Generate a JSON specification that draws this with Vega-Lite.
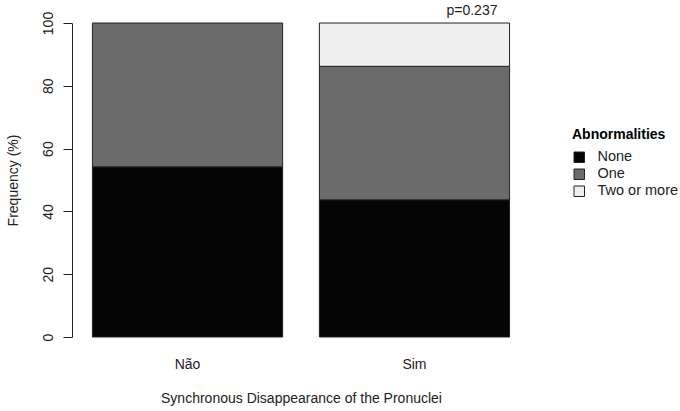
{
  "$schema": "https://vega.github.io/schema/vega-lite/v6.json",
  "width": 458,
  "height": 314,
  "autosize": "none",
  "padding": {"left": 72, "top": 23, "right": 150, "bottom": 74},
  "background": "white",
  "config": {
    "view": {"stroke": null},
    "font": "Liberation Sans",
    "axis": {"labelFont": "Liberation Sans", "titleFont": "Liberation Sans", "labelColor": "#222", "titleColor": "#222", "grid": false},
    "legend": {"labelFont": "Liberation Sans", "titleFont": "Liberation Sans"}
  },
  "layer": [
    {
      "data": {
        "values": [
          {"group": "Não", "Abnormalities": "None", "pct": 54.2},
          {"group": "Não", "Abnormalities": "One", "pct": 45.8},
          {"group": "Sim", "Abnormalities": "None", "pct": 43.7},
          {"group": "Sim", "Abnormalities": "One", "pct": 42.5},
          {"group": "Sim", "Abnormalities": "Two or more", "pct": 13.8}
        ]
      },
      "mark": {"type": "bar", "stroke": "#222", "strokeWidth": 1},
      "encoding": {
        "x": {
          "field": "group",
          "type": "nominal",
          "scale": {"paddingInner": 0.162, "paddingOuter": 0.09},
          "axis": {
            "title": "Synchronous Disappearance of the Pronuclei",
            "labelAngle": 0,
            "domain": false,
            "ticks": false,
            "labelPadding": 20,
            "labelFontSize": 14,
            "titleFontSize": 14,
            "titleFontWeight": "normal",
            "titlePadding": 20
          }
        },
        "y": {
          "field": "pct",
          "type": "quantitative",
          "stack": "zero",
          "scale": {"domain": [0, 100], "nice": false},
          "axis": {
            "title": "Frequency (%)",
            "values": [0, 20, 40, 60, 80, 100],
            "labelAngle": -90,
            "labelAlign": "center",
            "labelBaseline": "bottom",
            "labelPadding": 8,
            "labelFontSize": 14,
            "tickSize": 9,
            "tickColor": "#222",
            "domainColor": "#222",
            "titleFontSize": 14,
            "titleFontWeight": "normal",
            "titlePadding": 21
          }
        },
        "color": {
          "field": "Abnormalities",
          "type": "nominal",
          "scale": {"domain": ["None", "One", "Two or more"], "range": ["#050505", "#6b6b6b", "#efefef"]},
          "legend": {
            "orient": "none",
            "legendX": 500,
            "legendY": 105,
            "title": "Abnormalities",
            "titleFontSize": 14,
            "titleFontWeight": "bold",
            "titleColor": "#000",
            "titlePadding": 8,
            "labelFontSize": 14.5,
            "labelColor": "#222",
            "symbolType": "square",
            "symbolSize": 110,
            "symbolStrokeColor": "#222",
            "symbolStrokeWidth": 1,
            "labelOffset": 11,
            "rowPadding": 1
          }
        },
        "order": {"field": "Abnormalities", "sort": "ascending"}
      }
    },
    {
      "data": {"values": [{"group": "Sim", "top": 100, "label": "p=0.237"}]},
      "mark": {"type": "text", "align": "right", "baseline": "alphabetic", "dx": 83, "dy": -8, "fontSize": 14, "fontWeight": "normal", "color": "#222"},
      "encoding": {
        "x": {"field": "group", "type": "nominal"},
        "y": {"field": "top", "type": "quantitative"},
        "text": {"field": "label"}
      }
    }
  ]
}
